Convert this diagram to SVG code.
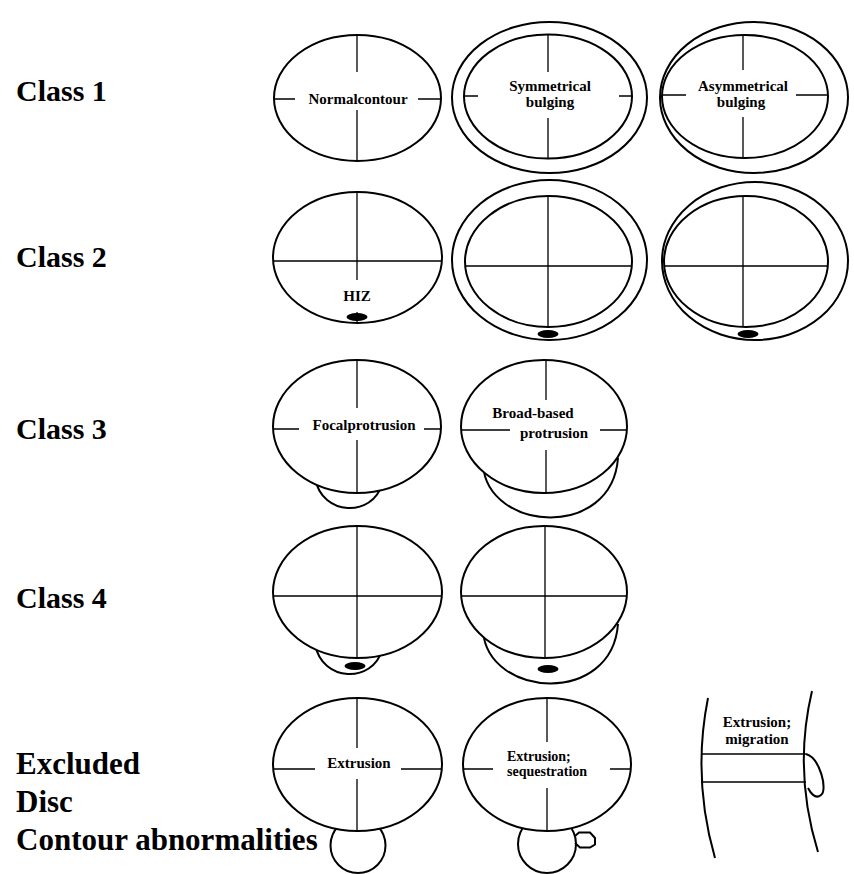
<svg xmlns="http://www.w3.org/2000/svg" width="854" height="874" viewBox="0 0 854 874">
  <style>
    .disc { fill: none; stroke: #000; stroke-width: 2; }
    .cover { fill: #fff; stroke: #000; stroke-width: 2; }
    .ax { stroke: #000; stroke-width: 1.3; fill: none; }
    .bump { fill: none; stroke: #000; stroke-width: 2; }
    .hiz { fill: #000; stroke: none; }
    .cls { font-family: "Liberation Serif", "Times New Roman", serif; font-weight: bold; font-size: 30px; fill: #000; }
    .big { font-size: 31px; }
    .lbl { font-family: "Liberation Serif", "Times New Roman", serif; font-weight: bold; font-size: 15px; fill: #000; text-anchor: middle; }
    .lbs { font-family: "Liberation Serif", "Times New Roman", serif; font-weight: bold; font-size: 14px; fill: #000; }
  </style>
  <rect width="854" height="874" fill="#fff"/>

  <!-- row headings -->
  <g id="headings">
    <text class="cls" x="16" y="101">Class 1</text>
    <text class="cls" x="16" y="267">Class 2</text>
    <text class="cls" x="16" y="439">Class 3</text>
    <text class="cls" x="16" y="608">Class 4</text>
    <text class="cls big" x="16" y="774">Excluded</text>
    <text class="cls big" x="16" y="812">Disc</text>
    <text class="cls big" x="16" y="850">Contour abnormalities</text>
  </g>

  <!-- Class 1 -->
  <g id="c1-normal">
    <ellipse class="disc" cx="357.5" cy="98" rx="83.5" ry="63"/>
    <path class="ax" d="M274 99H295M418 99H441M357 35V72M357 110V161"/>
    <text class="lbl" x="358" y="104">Normalcontour</text>
  </g>
  <g id="c1-symmetrical">
    <ellipse class="disc" cx="549.5" cy="97.5" rx="97.5" ry="75.5"/>
    <ellipse class="disc" cx="548" cy="96.5" rx="84" ry="62"/>
    <path class="ax" d="M464 96H478M619 96H632M548 35V72M548 118V158"/>
    <text class="lbl" x="550" y="91">Symmetrical</text>
    <text class="lbl" x="550" y="107">bulging</text>
  </g>
  <g id="c1-asymmetrical">
    <ellipse class="disc" cx="754" cy="97.5" rx="94" ry="75.5"/>
    <ellipse class="disc" cx="745" cy="96.5" rx="83" ry="61.5"/>
    <path class="ax" d="M662 95H686M796 95H828M743 35V70M743 117V158"/>
    <text class="lbl" x="743" y="91">Asymmetrical</text>
    <text class="lbl" x="741" y="107">bulging</text>
  </g>

  <!-- Class 2 -->
  <g id="c2-normal">
    <ellipse class="disc" cx="357.5" cy="257.5" rx="84.5" ry="65.5"/>
    <path class="ax" d="M273 261H442M357 192V280M357 312V323"/>
    <text class="lbl" x="357" y="301">HIZ</text>
    <ellipse class="hiz" cx="357" cy="317" rx="10.5" ry="4"/>
  </g>
  <g id="c2-symmetrical">
    <ellipse class="disc" cx="549.5" cy="260" rx="97.5" ry="80"/>
    <ellipse class="disc" cx="548.5" cy="261.5" rx="83.5" ry="65.5"/>
    <path class="ax" d="M465 266H632M548 196V327"/>
    <ellipse class="hiz" cx="548" cy="334" rx="10.5" ry="4"/>
  </g>
  <g id="c2-asymmetrical">
    <ellipse class="disc" cx="755" cy="261" rx="93" ry="79"/>
    <ellipse class="disc" cx="746" cy="261.5" rx="82" ry="65.5"/>
    <path class="ax" d="M664 266H828M743 196V327"/>
    <ellipse class="hiz" cx="748" cy="334" rx="10.5" ry="4"/>
  </g>

  <!-- Class 3 -->
  <g id="c3-focal">
    <path class="bump" d="M315 478C322 517 373 517 382 484"/>
    <ellipse class="cover" cx="357" cy="426.5" rx="84" ry="66.5"/>
    <path class="ax" d="M273 429H299M424 429H441M357 360V408M357 440V493"/>
    <text class="lbl" x="364" y="430">Focalprotrusion</text>
  </g>
  <g id="c3-broad">
    <path class="bump" d="M483 465C488 532 612 540 618 458"/>
    <ellipse class="cover" cx="544" cy="426.5" rx="83" ry="66.5"/>
    <path class="ax" d="M461 430H510M600 430H627M546 360V400M546 450V493"/>
    <text class="lbl" x="533" y="418">Broad-based</text>
    <text class="lbl" x="554" y="438">protrusion</text>
  </g>

  <!-- Class 4 -->
  <g id="c4-focal">
    <path class="bump" d="M315 644C322 683 373 683 382 650"/>
    <ellipse class="cover" cx="357.5" cy="592" rx="84.5" ry="66"/>
    <path class="ax" d="M273 596H442M357 526V658"/>
    <ellipse class="hiz" cx="355" cy="666" rx="10.5" ry="4"/>
  </g>
  <g id="c4-broad">
    <path class="bump" d="M483 631C488 698 612 706 618 624"/>
    <ellipse class="cover" cx="544" cy="592" rx="83" ry="66"/>
    <path class="ax" d="M461 596H627M545 526V658"/>
    <ellipse class="hiz" cx="548" cy="669" rx="10.5" ry="4"/>
  </g>

  <!-- Excluded -->
  <g id="ex-extrusion">
    <circle class="bump" cx="358" cy="845.5" r="27.5"/>
    <ellipse class="cover" cx="357.5" cy="764.5" rx="84.5" ry="66.5"/>
    <path class="ax" d="M273 769H315M401 769H442M357 698V748M357 779V831"/>
    <text class="lbl" x="359" y="768">Extrusion</text>
  </g>
  <g id="ex-sequestration">
    <circle class="bump" cx="547" cy="844" r="29"/>
    <path class="bump" d="M575 836L579 832.5H590L595 838V844.5L590 847.5H580L575 843"/>
    <ellipse class="cover" cx="547" cy="764.5" rx="84" ry="66.5"/>
    <path class="ax" d="M463 769H493M610 769H631M547 698V742M547 788V831"/>
    <text class="lbs" x="507" y="761">Extrusion;</text>
    <text class="lbs" x="507" y="776">sequestration</text>
  </g>
  <g id="ex-migration">
    <path class="bump" d="M708 698Q692 778 715 858"/>
    <path class="bump" d="M812 691Q793 771 818 852"/>
    <path class="ax" d="M701 754H806M701 782H806"/>
    <path class="bump" d="M806 754C820 758 828 790 821 795C815 800 810 792 808 788"/>
    <text class="lbl" x="757" y="727">Extrusion;</text>
    <text class="lbl" x="757" y="744">migration</text>
  </g>
</svg>
